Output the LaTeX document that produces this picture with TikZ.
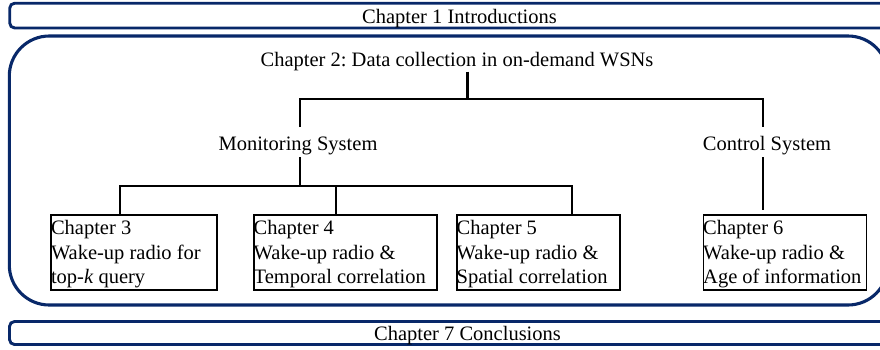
\documentclass[tikz,border=0pt]{standalone}
\usepackage{fontspec}
\setmainfont{Liberation Serif}
\usetikzlibrary{calc}
\definecolor{navy}{RGB}{8,40,105}
\frenchspacing
\begin{document}
\begin{tikzpicture}[x=1pt,y=-1pt,
  font=\fontsize{20.5}{24.5}\selectfont,
  band/.style={draw=navy, line width=2.9pt, rounded corners=5pt},
  frame/.style={draw=navy, line width=3.1pt, rounded corners=40pt},
  chapbox/.style={draw=black, line width=1.8pt, inner sep=0pt, anchor=north west,
    minimum height=75pt},
  boxtext/.style={anchor=north west, inner sep=0pt, align=left},
  link/.style={draw=black, line width=2.6pt},
  label/.style={inner sep=0pt, anchor=base}]
\useasboundingbox (0,0) rectangle (880,349);
\clip (0,0) rectangle (880,349);

% outer frames
\draw[band] (9.7,3.2) rectangle (900,28);
\draw[frame] (9.3,36) rectangle (888,305);
\draw[band] (9.5,321.5) rectangle (900,344.5);

% headings
\node[label] (ch1) at (459.5,23.3) {Chapter 1 Introductions};
\node[label] (ch7) at (467.5,340.5) {Chapter 7 Conclusions};
\node[label] (ch2) at (457,66) {Chapter 2: Data collection in on-demand WSNs};
\node[label] (mon) at (298,150) {Monitoring System};
\node[label] (ctl) at (767,150) {Control System};

% chapter boxes
\node[chapbox, minimum width=166pt] (c3) at (50.3,214) {};
\node[chapbox, minimum width=183pt] (c4) at (253,214) {};
\node[chapbox, minimum width=163pt] (c5) at (456,214) {};
\node[chapbox, minimum width=163pt] (c6) at (702.5,214) {};

\node[boxtext] (t3) at ($(c3.north west)+(0.5,6.5)$) {Chapter 3\\Wake-up radio for\\top-\textit{k} query};
\node[boxtext] (t4) at ($(c4.north west)+(0.5,6.5)$) {Chapter 4\\Wake-up radio \&\\Temporal correlation};
\node[boxtext] (t5) at ($(c5.north west)+(0.5,6.5)$) {Chapter 5\\Wake-up radio \&\\Spatial correlation};
\node[boxtext] (t6) at ($(c6.north west)+(0.5,6.5)$) {Chapter 6\\Wake-up radio \&\\Age of information};

% junction points of the tree
\coordinate (top) at (467.5,71.5);
\coordinate (bus1) at (467.5,99);
\coordinate (monup) at (300,127);
\coordinate (mondn) at (300,157);
\coordinate (bus2) at (300,186);
\coordinate (ctlup) at (763,127);
\coordinate (ctldn) at (763,157);

% connectors
\draw[link] (top) -- (bus1);
\draw[link] (monup) |- (bus1) -| (ctlup);
\draw[link] (mondn) -- (bus2);
\draw[link] ($(c3.north west)+(69.7,0)$) |- ($(c5.north west)+(116,-28)$) -- ($(c5.north west)+(116,0)$);
\draw[link] ($(c4.north west)+(83,0)$) -- ($(c4.north west)+(83,-28)$);
\draw[link] (ctldn) -- ($(c6.north west |- ctldn)+(60.5,0)$) -- ($(c6.north west)+(60.5,-4)$);
\end{tikzpicture}
\end{document}
